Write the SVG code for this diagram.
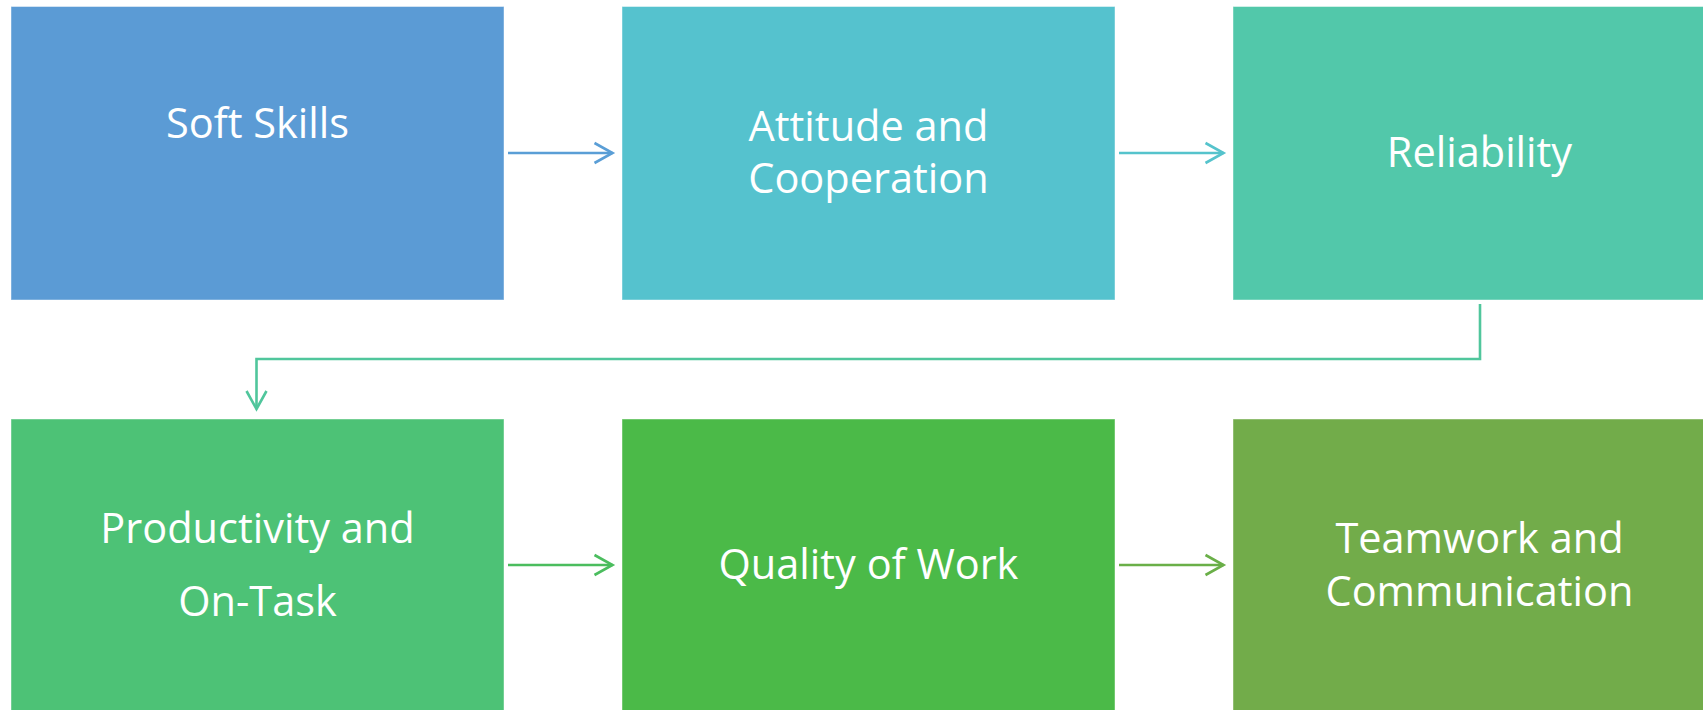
<svg xmlns="http://www.w3.org/2000/svg" width="1703" height="710" viewBox="0 0 1703 710">
<style>
  .box { stroke: #ffffff; stroke-opacity: 0.45; stroke-width: 1; }
  .lbl { font-family: "Open Sans", "Noto Sans", sans-serif; font-size: 41.5px; fill: #ffffff; text-anchor: middle; }
  .con { fill: none; stroke-width: 2.6; }
</style>
<defs>
  <marker id="a1" markerUnits="userSpaceOnUse" markerWidth="24" markerHeight="24" viewBox="-20 -12 22 24" refX="0" refY="0" orient="auto"><path d="M-18,-10 L0,0 L-18,10" fill="none" stroke="#5A9ED6" stroke-width="2.6"/></marker>
  <marker id="a2" markerUnits="userSpaceOnUse" markerWidth="24" markerHeight="24" viewBox="-20 -12 22 24" refX="0" refY="0" orient="auto"><path d="M-18,-10 L0,0 L-18,10" fill="none" stroke="#55C3CC" stroke-width="2.6"/></marker>
  <marker id="a3" markerUnits="userSpaceOnUse" markerWidth="24" markerHeight="24" viewBox="-20 -12 22 24" refX="0" refY="0" orient="auto"><path d="M-18,-10 L0,0 L-18,10" fill="none" stroke="#50C69C" stroke-width="2.6"/></marker>
  <marker id="a4" markerUnits="userSpaceOnUse" markerWidth="24" markerHeight="24" viewBox="-20 -12 22 24" refX="0" refY="0" orient="auto"><path d="M-18,-10 L0,0 L-18,10" fill="none" stroke="#4BBD5E" stroke-width="2.6"/></marker>
  <marker id="a5" markerUnits="userSpaceOnUse" markerWidth="24" markerHeight="24" viewBox="-20 -12 22 24" refX="0" refY="0" orient="auto"><path d="M-18,-10 L0,0 L-18,10" fill="none" stroke="#6AAF48" stroke-width="2.6"/></marker>
</defs>
<rect width="1703" height="710" fill="#ffffff"/>
<g id="connectors">
  <path class="con" stroke="#5A9ED6" d="M508,153 H612.5" marker-end="url(#a1)"/>
  <path class="con" stroke="#55C3CC" d="M1119,153 H1223.5" marker-end="url(#a2)"/>
  <path class="con" stroke="#50C69C" d="M1480,304 V359 H256.5 V409" marker-end="url(#a3)"/>
  <path class="con" stroke="#4BBD5E" d="M508,565 H612.5" marker-end="url(#a4)"/>
  <path class="con" stroke="#6AAF48" d="M1119,565 H1223.5" marker-end="url(#a5)"/>
</g>
<g id="node-soft-skills">
  <rect class="box" x="11" y="6.5" width="493" height="293.5" fill="#5B9BD5"/>
  <text class="lbl" x="257.5" y="138">Soft Skills</text>
</g>
<g id="node-attitude">
  <rect class="box" x="622" y="6.5" width="493" height="293.5" fill="#55C2CE"/>
  <text class="lbl" x="868.5" y="141">Attitude and</text>
  <text class="lbl" x="868.5" y="193">Cooperation</text>
</g>
<g id="node-reliability">
  <rect class="box" x="1233" y="6.5" width="493" height="293.5" fill="#52C8AA"/>
  <text class="lbl" x="1479.5" y="167">Reliability</text>
</g>
<g id="node-productivity">
  <rect class="box" x="11" y="419" width="493" height="293.5" fill="#4DC276"/>
  <text class="lbl" x="257.5" y="543">Productivity and</text>
  <text class="lbl" x="257.5" y="616">On-Task</text>
</g>
<g id="node-quality">
  <rect class="box" x="622" y="419" width="493" height="293.5" fill="#4BBA48"/>
  <text class="lbl" x="868.5" y="579">Quality of Work</text>
</g>
<g id="node-teamwork">
  <rect class="box" x="1233" y="419" width="493" height="293.5" fill="#72AC4A"/>
  <text class="lbl" x="1479.5" y="553">Teamwork and</text>
  <text class="lbl" x="1479.5" y="606">Communication</text>
</g>
</svg>
